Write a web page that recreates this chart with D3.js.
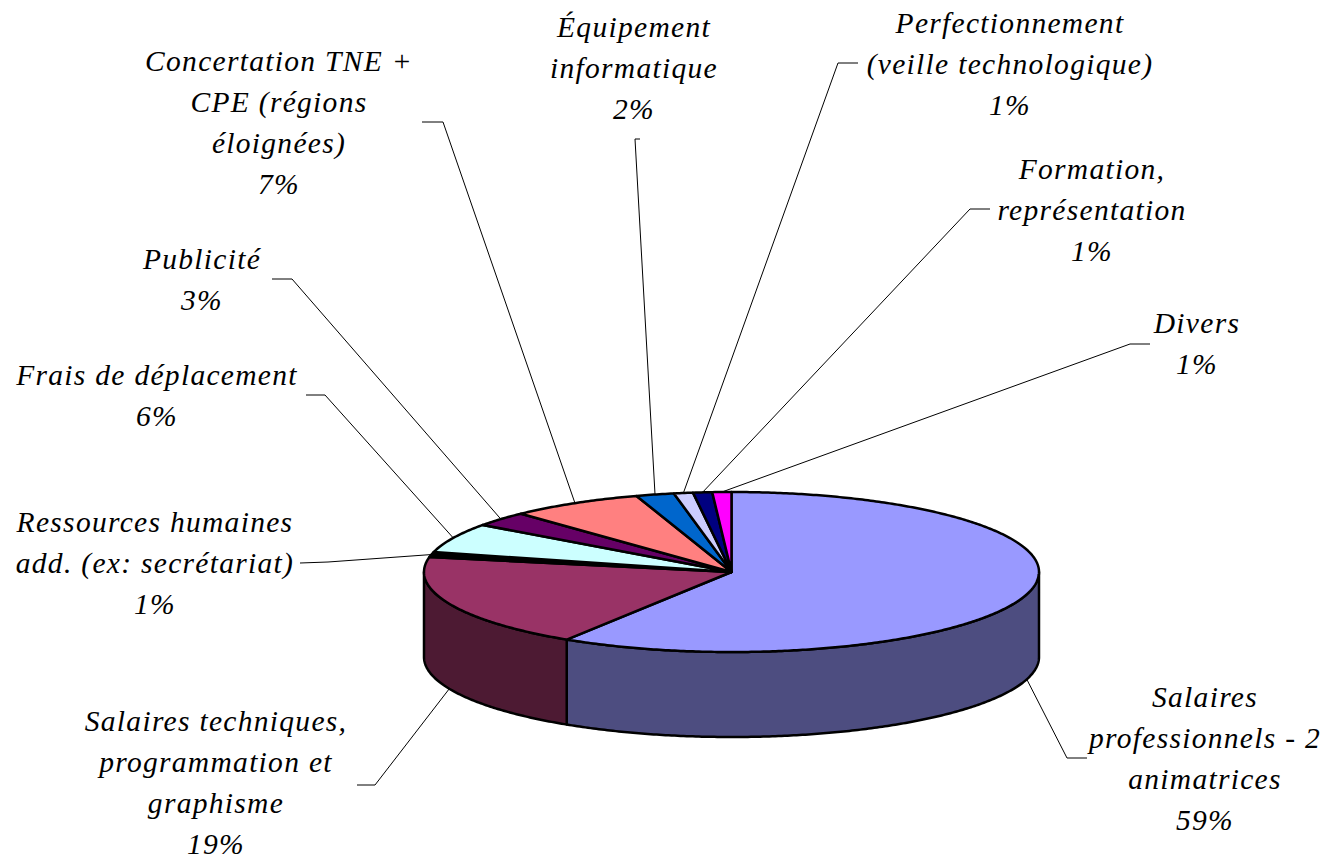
<!DOCTYPE html>
<html><head><meta charset="utf-8">
<script src="https://cdn.jsdelivr.net/npm/d3@7/dist/d3.min.js"></script>
<style>html,body{margin:0;padding:0;background:#fff}svg{display:block}</style>
</head><body><svg id="c" width="1326" height="860"></svg>
<script>
(function(){
const labels = [
  ["Salaires","professionnels - 2","animatrices"],
  ["Salaires techniques,","programmation et","graphisme"],
  ["Ressources humaines","add. (ex: secrétariat)"],
  ["Frais de déplacement"],
  ["Publicité"],
  ["Concertation TNE +","CPE (régions","éloignées)"],
  ["Équipement","informatique"],
  ["Perfectionnement","(veille technologique)"],
  ["Formation,","représentation"],
  ["Divers"]
];
const values = [59,19,1,6,3,7,2,1,1,1];
const topColors = ["#9999FF","#993366","#000000","#CCFFFF","#660066","#FF8080","#0066CC","#CCCCFF","#000080","#FF00FF"];
const sideColors = ["#4D4D80","#4D1A33","#000000","#668080","#330033","#804040","#003366","#666680","#000040","#800080"];
// layout: label centre x, first-line baseline y
const labelX = [1205,216,155,157,202,279,634,1010,1092,1197];
const labelY = [707,730.5,532,385,269,71,37,33,179,333];
const lineGap = 41;
// layout: leader line outer end and elbow
const leaderStart = [[1087,758],[357,785],[300,563],[306,395],[272,279],[422,122],[640,139],[858,63],[990,209],[1150,344]];
const leaderElbow = [[1067,758],[375,785],[328,562],[325,395],[292,279],[443,122],[635,139],[838,63],[970,209],[1130,344]];

const cx=731.5, cy=572, rx=307.5, ry=80, depth=85;
const sx=d3.scaleLinear().domain([-1,1]).range([cx-rx,cx+rx]);
const sy=d3.scaleLinear().domain([-1,1]).range([cy-ry,cy+ry]);
const svg=d3.select("#c");
const pie=d3.pie().sort(null).startAngle(0).endAngle(2*Math.PI);
const arcs=pie(values);
const px=a=>sx(Math.sin(a)), py=a=>sy(-Math.cos(a));
const samples=(a0,a1)=>{const n=Math.max(2,Math.ceil((a1-a0)/0.01));return d3.range(n+1).map(i=>a0+(a1-a0)*i/n);};
const line=d3.line();
const sw=2.5;

// side wall (front half only)
const lo=Math.PI/2, hi=3*Math.PI/2;
const wall=svg.append("g");
arcs.forEach((d,i)=>{
  const a0=Math.max(d.startAngle,lo), a1=Math.min(d.endAngle,hi);
  if(a1<=a0) return;
  const as=samples(a0,a1);
  const pts=as.map(a=>[px(a),py(a)]).concat(as.slice().reverse().map(a=>[px(a),py(a)+depth]));
  wall.append("path").attr("d",line(pts)+"Z").attr("fill",sideColors[i])
    .attr("stroke","#000").attr("stroke-width",sw).attr("stroke-linejoin","round");
});
// leaders
const lead=svg.append("g");
arcs.forEach((d,i)=>{
  const m=(d.startAngle+d.endAngle)/2;
  const front=Math.cos(m)<0;
  const end=[px(m),py(m)+(front?depth:0)];
  lead.append("path").attr("d",line([leaderStart[i],leaderElbow[i],end]))
    .attr("fill","none").attr("stroke","#000").attr("stroke-width",1);
});
// top face
const topFace=svg.append("g");
arcs.forEach((d,i)=>{
  const pts=[[sx(0),sy(0)]].concat(samples(d.startAngle,d.endAngle).map(a=>[px(a),py(a)]));
  topFace.append("path").attr("d",line(pts)+"Z").attr("fill",topColors[i])
    .attr("stroke","#000").attr("stroke-width",sw).attr("stroke-linejoin","round");
});
// labels
const fmt=d3.format(".0f");
const txt=svg.append("g").attr("font-family","'Liberation Serif','Times New Roman',serif")
  .attr("font-style","italic").attr("font-size",29.5).attr("letter-spacing","1.3px").attr("fill","#000").attr("text-anchor","middle");
labels.forEach((ls,i)=>{
  const all=ls.concat([fmt(values[i])+"%"]);
  all.forEach((s,j)=>{
    txt.append("text").attr("x",labelX[i]).attr("y",labelY[i]+j*lineGap).text(s);
  });
});
})();
</script></body></html>
